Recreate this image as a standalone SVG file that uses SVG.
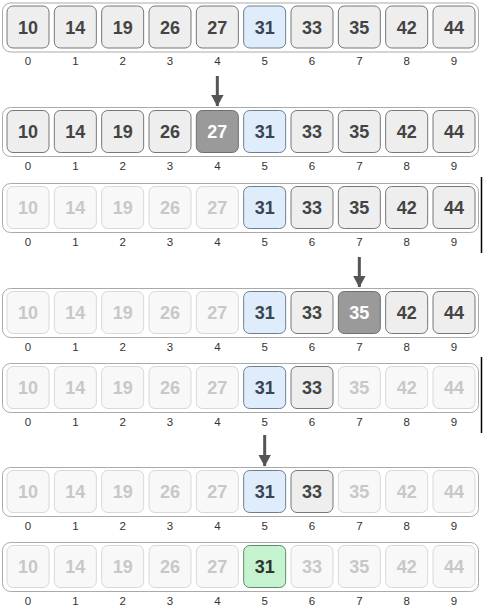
<svg xmlns="http://www.w3.org/2000/svg" width="483" height="611" viewBox="0 0 483 611">
<style>
.bg{fill:#fff}
.row{fill:#fff;stroke:#aaa;stroke-width:1}
.c rect{stroke-width:1}
.n rect{fill:#eeeeee;stroke:#777}
.n text{fill:#444}
.f rect{fill:#f8f8f8;stroke:#d8d8d8}
.f text{fill:#c8c8c8}
.b rect{fill:#dfecfb;stroke:#6e7f90}
.b text{fill:#3b4450}
.g rect{fill:#9a9a9a;stroke:#6f6f6f}
.g text{fill:#fff}
.k rect{fill:#c6f3cf;stroke:#5f8a68}
.k text{fill:#333}
.v{font-family:"Liberation Sans",Arial,sans-serif;font-weight:bold;font-size:18px;text-anchor:middle}
.c .i{font-family:"Liberation Sans",Arial,sans-serif;font-size:11.5px;fill:#333;font-weight:normal;text-anchor:middle}
.arr{stroke:#555;stroke-width:3;fill:none}
.edge{stroke:#000;stroke-width:1.5}
</style>
<defs>
<marker id="ah" viewBox="0 0 12 13" refX="11.5" refY="6.5" markerWidth="12" markerHeight="13" markerUnits="userSpaceOnUse" orient="auto">
<path d="M0,0 L12,6.5 L0,13 Z" fill="#555"/>
</marker>
</defs>
<rect class="bg" x="0" y="0" width="483" height="611"/>

<!-- Row 1 -->
<g id="row1" transform="translate(0,6)">
<rect class="row" x="2.5" y="-3" width="476" height="49" rx="8"/>
<g id="r1c0" class="c n"><rect x="7" y="0" width="42" height="42" rx="6"/><text class="v" x="28" y="27.5">10</text><text class="i" x="28" y="59">0</text></g>
<g id="r1c1" class="c n"><rect x="54.33" y="0" width="42" height="42" rx="6"/><text class="v" x="75.33" y="27.5">14</text><text class="i" x="75.33" y="59">1</text></g>
<g id="r1c2" class="c n"><rect x="101.67" y="0" width="42" height="42" rx="6"/><text class="v" x="122.67" y="27.5">19</text><text class="i" x="122.67" y="59">2</text></g>
<g id="r1c3" class="c n"><rect x="149" y="0" width="42" height="42" rx="6"/><text class="v" x="170" y="27.5">26</text><text class="i" x="170" y="59">3</text></g>
<g id="r1c4" class="c n"><rect x="196.33" y="0" width="42" height="42" rx="6"/><text class="v" x="217.33" y="27.5">27</text><text class="i" x="217.33" y="59">4</text></g>
<g id="r1c5" class="c b"><rect x="243.67" y="0" width="42" height="42" rx="6"/><text class="v" x="264.67" y="27.5">31</text><text class="i" x="264.67" y="59">5</text></g>
<g id="r1c6" class="c n"><rect x="291" y="0" width="42" height="42" rx="6"/><text class="v" x="312" y="27.5">33</text><text class="i" x="312" y="59">6</text></g>
<g id="r1c7" class="c n"><rect x="338.33" y="0" width="42" height="42" rx="6"/><text class="v" x="359.33" y="27.5">35</text><text class="i" x="359.33" y="59">7</text></g>
<g id="r1c8" class="c n"><rect x="385.67" y="0" width="42" height="42" rx="6"/><text class="v" x="406.67" y="27.5">42</text><text class="i" x="406.67" y="59">8</text></g>
<g id="r1c9" class="c n"><rect x="433" y="0" width="42" height="42" rx="6"/><text class="v" x="454" y="27.5">44</text><text class="i" x="454" y="59">9</text></g>
</g>

<!-- Row 2 -->
<g id="row2" transform="translate(0,110.5)">
<rect class="row" x="2.5" y="-3" width="476" height="49" rx="8"/>
<g id="r2c0" class="c n"><rect x="7" y="0" width="42" height="42" rx="6"/><text class="v" x="28" y="27.5">10</text><text class="i" x="28" y="59">0</text></g>
<g id="r2c1" class="c n"><rect x="54.33" y="0" width="42" height="42" rx="6"/><text class="v" x="75.33" y="27.5">14</text><text class="i" x="75.33" y="59">1</text></g>
<g id="r2c2" class="c n"><rect x="101.67" y="0" width="42" height="42" rx="6"/><text class="v" x="122.67" y="27.5">19</text><text class="i" x="122.67" y="59">2</text></g>
<g id="r2c3" class="c n"><rect x="149" y="0" width="42" height="42" rx="6"/><text class="v" x="170" y="27.5">26</text><text class="i" x="170" y="59">3</text></g>
<g id="r2c4" class="c g"><rect x="196.33" y="0" width="42" height="42" rx="6"/><text class="v" x="217.33" y="27.5">27</text><text class="i" x="217.33" y="59">4</text></g>
<g id="r2c5" class="c b"><rect x="243.67" y="0" width="42" height="42" rx="6"/><text class="v" x="264.67" y="27.5">31</text><text class="i" x="264.67" y="59">5</text></g>
<g id="r2c6" class="c n"><rect x="291" y="0" width="42" height="42" rx="6"/><text class="v" x="312" y="27.5">33</text><text class="i" x="312" y="59">6</text></g>
<g id="r2c7" class="c n"><rect x="338.33" y="0" width="42" height="42" rx="6"/><text class="v" x="359.33" y="27.5">35</text><text class="i" x="359.33" y="59">7</text></g>
<g id="r2c8" class="c n"><rect x="385.67" y="0" width="42" height="42" rx="6"/><text class="v" x="406.67" y="27.5">42</text><text class="i" x="406.67" y="59">8</text></g>
<g id="r2c9" class="c n"><rect x="433" y="0" width="42" height="42" rx="6"/><text class="v" x="454" y="27.5">44</text><text class="i" x="454" y="59">9</text></g>
</g>

<!-- Row 3 -->
<g id="row3" transform="translate(0,186.5)">
<rect class="row" x="2.5" y="-3" width="476" height="49" rx="8"/>
<g id="r3c0" class="c f"><rect x="7" y="0" width="42" height="42" rx="6"/><text class="v" x="28" y="27.5">10</text><text class="i" x="28" y="59">0</text></g>
<g id="r3c1" class="c f"><rect x="54.33" y="0" width="42" height="42" rx="6"/><text class="v" x="75.33" y="27.5">14</text><text class="i" x="75.33" y="59">1</text></g>
<g id="r3c2" class="c f"><rect x="101.67" y="0" width="42" height="42" rx="6"/><text class="v" x="122.67" y="27.5">19</text><text class="i" x="122.67" y="59">2</text></g>
<g id="r3c3" class="c f"><rect x="149" y="0" width="42" height="42" rx="6"/><text class="v" x="170" y="27.5">26</text><text class="i" x="170" y="59">3</text></g>
<g id="r3c4" class="c f"><rect x="196.33" y="0" width="42" height="42" rx="6"/><text class="v" x="217.33" y="27.5">27</text><text class="i" x="217.33" y="59">4</text></g>
<g id="r3c5" class="c b"><rect x="243.67" y="0" width="42" height="42" rx="6"/><text class="v" x="264.67" y="27.5">31</text><text class="i" x="264.67" y="59">5</text></g>
<g id="r3c6" class="c n"><rect x="291" y="0" width="42" height="42" rx="6"/><text class="v" x="312" y="27.5">33</text><text class="i" x="312" y="59">6</text></g>
<g id="r3c7" class="c n"><rect x="338.33" y="0" width="42" height="42" rx="6"/><text class="v" x="359.33" y="27.5">35</text><text class="i" x="359.33" y="59">7</text></g>
<g id="r3c8" class="c n"><rect x="385.67" y="0" width="42" height="42" rx="6"/><text class="v" x="406.67" y="27.5">42</text><text class="i" x="406.67" y="59">8</text></g>
<g id="r3c9" class="c n"><rect x="433" y="0" width="42" height="42" rx="6"/><text class="v" x="454" y="27.5">44</text><text class="i" x="454" y="59">9</text></g>
</g>

<!-- Row 4 -->
<g id="row4" transform="translate(0,291.5)">
<rect class="row" x="2.5" y="-3" width="476" height="49" rx="8"/>
<g id="r4c0" class="c f"><rect x="7" y="0" width="42" height="42" rx="6"/><text class="v" x="28" y="27.5">10</text><text class="i" x="28" y="59">0</text></g>
<g id="r4c1" class="c f"><rect x="54.33" y="0" width="42" height="42" rx="6"/><text class="v" x="75.33" y="27.5">14</text><text class="i" x="75.33" y="59">1</text></g>
<g id="r4c2" class="c f"><rect x="101.67" y="0" width="42" height="42" rx="6"/><text class="v" x="122.67" y="27.5">19</text><text class="i" x="122.67" y="59">2</text></g>
<g id="r4c3" class="c f"><rect x="149" y="0" width="42" height="42" rx="6"/><text class="v" x="170" y="27.5">26</text><text class="i" x="170" y="59">3</text></g>
<g id="r4c4" class="c f"><rect x="196.33" y="0" width="42" height="42" rx="6"/><text class="v" x="217.33" y="27.5">27</text><text class="i" x="217.33" y="59">4</text></g>
<g id="r4c5" class="c b"><rect x="243.67" y="0" width="42" height="42" rx="6"/><text class="v" x="264.67" y="27.5">31</text><text class="i" x="264.67" y="59">5</text></g>
<g id="r4c6" class="c n"><rect x="291" y="0" width="42" height="42" rx="6"/><text class="v" x="312" y="27.5">33</text><text class="i" x="312" y="59">6</text></g>
<g id="r4c7" class="c g"><rect x="338.33" y="0" width="42" height="42" rx="6"/><text class="v" x="359.33" y="27.5">35</text><text class="i" x="359.33" y="59">7</text></g>
<g id="r4c8" class="c n"><rect x="385.67" y="0" width="42" height="42" rx="6"/><text class="v" x="406.67" y="27.5">42</text><text class="i" x="406.67" y="59">8</text></g>
<g id="r4c9" class="c n"><rect x="433" y="0" width="42" height="42" rx="6"/><text class="v" x="454" y="27.5">44</text><text class="i" x="454" y="59">9</text></g>
</g>

<!-- Row 5 -->
<g id="row5" transform="translate(0,366.5)">
<rect class="row" x="2.5" y="-3" width="476" height="49" rx="8"/>
<g id="r5c0" class="c f"><rect x="7" y="0" width="42" height="42" rx="6"/><text class="v" x="28" y="27.5">10</text><text class="i" x="28" y="59">0</text></g>
<g id="r5c1" class="c f"><rect x="54.33" y="0" width="42" height="42" rx="6"/><text class="v" x="75.33" y="27.5">14</text><text class="i" x="75.33" y="59">1</text></g>
<g id="r5c2" class="c f"><rect x="101.67" y="0" width="42" height="42" rx="6"/><text class="v" x="122.67" y="27.5">19</text><text class="i" x="122.67" y="59">2</text></g>
<g id="r5c3" class="c f"><rect x="149" y="0" width="42" height="42" rx="6"/><text class="v" x="170" y="27.5">26</text><text class="i" x="170" y="59">3</text></g>
<g id="r5c4" class="c f"><rect x="196.33" y="0" width="42" height="42" rx="6"/><text class="v" x="217.33" y="27.5">27</text><text class="i" x="217.33" y="59">4</text></g>
<g id="r5c5" class="c b"><rect x="243.67" y="0" width="42" height="42" rx="6"/><text class="v" x="264.67" y="27.5">31</text><text class="i" x="264.67" y="59">5</text></g>
<g id="r5c6" class="c n"><rect x="291" y="0" width="42" height="42" rx="6"/><text class="v" x="312" y="27.5">33</text><text class="i" x="312" y="59">6</text></g>
<g id="r5c7" class="c f"><rect x="338.33" y="0" width="42" height="42" rx="6"/><text class="v" x="359.33" y="27.5">35</text><text class="i" x="359.33" y="59">7</text></g>
<g id="r5c8" class="c f"><rect x="385.67" y="0" width="42" height="42" rx="6"/><text class="v" x="406.67" y="27.5">42</text><text class="i" x="406.67" y="59">8</text></g>
<g id="r5c9" class="c f"><rect x="433" y="0" width="42" height="42" rx="6"/><text class="v" x="454" y="27.5">44</text><text class="i" x="454" y="59">9</text></g>
</g>

<!-- Row 6 -->
<g id="row6" transform="translate(0,470.5)">
<rect class="row" x="2.5" y="-3" width="476" height="49" rx="8"/>
<g id="r6c0" class="c f"><rect x="7" y="0" width="42" height="42" rx="6"/><text class="v" x="28" y="27.5">10</text><text class="i" x="28" y="59">0</text></g>
<g id="r6c1" class="c f"><rect x="54.33" y="0" width="42" height="42" rx="6"/><text class="v" x="75.33" y="27.5">14</text><text class="i" x="75.33" y="59">1</text></g>
<g id="r6c2" class="c f"><rect x="101.67" y="0" width="42" height="42" rx="6"/><text class="v" x="122.67" y="27.5">19</text><text class="i" x="122.67" y="59">2</text></g>
<g id="r6c3" class="c f"><rect x="149" y="0" width="42" height="42" rx="6"/><text class="v" x="170" y="27.5">26</text><text class="i" x="170" y="59">3</text></g>
<g id="r6c4" class="c f"><rect x="196.33" y="0" width="42" height="42" rx="6"/><text class="v" x="217.33" y="27.5">27</text><text class="i" x="217.33" y="59">4</text></g>
<g id="r6c5" class="c b"><rect x="243.67" y="0" width="42" height="42" rx="6"/><text class="v" x="264.67" y="27.5">31</text><text class="i" x="264.67" y="59">5</text></g>
<g id="r6c6" class="c n"><rect x="291" y="0" width="42" height="42" rx="6"/><text class="v" x="312" y="27.5">33</text><text class="i" x="312" y="59">6</text></g>
<g id="r6c7" class="c f"><rect x="338.33" y="0" width="42" height="42" rx="6"/><text class="v" x="359.33" y="27.5">35</text><text class="i" x="359.33" y="59">7</text></g>
<g id="r6c8" class="c f"><rect x="385.67" y="0" width="42" height="42" rx="6"/><text class="v" x="406.67" y="27.5">42</text><text class="i" x="406.67" y="59">8</text></g>
<g id="r6c9" class="c f"><rect x="433" y="0" width="42" height="42" rx="6"/><text class="v" x="454" y="27.5">44</text><text class="i" x="454" y="59">9</text></g>
</g>

<!-- Row 7 -->
<g id="row7" transform="translate(0,545.5)">
<rect class="row" x="2.5" y="-3" width="476" height="49" rx="8"/>
<g id="r7c0" class="c f"><rect x="7" y="0" width="42" height="42" rx="6"/><text class="v" x="28" y="27.5">10</text><text class="i" x="28" y="59">0</text></g>
<g id="r7c1" class="c f"><rect x="54.33" y="0" width="42" height="42" rx="6"/><text class="v" x="75.33" y="27.5">14</text><text class="i" x="75.33" y="59">1</text></g>
<g id="r7c2" class="c f"><rect x="101.67" y="0" width="42" height="42" rx="6"/><text class="v" x="122.67" y="27.5">19</text><text class="i" x="122.67" y="59">2</text></g>
<g id="r7c3" class="c f"><rect x="149" y="0" width="42" height="42" rx="6"/><text class="v" x="170" y="27.5">26</text><text class="i" x="170" y="59">3</text></g>
<g id="r7c4" class="c f"><rect x="196.33" y="0" width="42" height="42" rx="6"/><text class="v" x="217.33" y="27.5">27</text><text class="i" x="217.33" y="59">4</text></g>
<g id="r7c5" class="c k"><rect x="243.67" y="0" width="42" height="42" rx="6"/><text class="v" x="264.67" y="27.5">31</text><text class="i" x="264.67" y="59">5</text></g>
<g id="r7c6" class="c f"><rect x="291" y="0" width="42" height="42" rx="6"/><text class="v" x="312" y="27.5">33</text><text class="i" x="312" y="59">6</text></g>
<g id="r7c7" class="c f"><rect x="338.33" y="0" width="42" height="42" rx="6"/><text class="v" x="359.33" y="27.5">35</text><text class="i" x="359.33" y="59">7</text></g>
<g id="r7c8" class="c f"><rect x="385.67" y="0" width="42" height="42" rx="6"/><text class="v" x="406.67" y="27.5">42</text><text class="i" x="406.67" y="59">8</text></g>
<g id="r7c9" class="c f"><rect x="433" y="0" width="42" height="42" rx="6"/><text class="v" x="454" y="27.5">44</text><text class="i" x="454" y="59">9</text></g>
</g>

<g id="connectors">
<line class="arr" x1="217.33" y1="76" x2="217.33" y2="106" marker-end="url(#ah)"/>
<line class="arr" x1="359.33" y1="257" x2="359.33" y2="287" marker-end="url(#ah)"/>
<line class="arr" x1="264.67" y1="435" x2="264.67" y2="466" marker-end="url(#ah)"/>
</g>

<g id="edges">
<line class="edge" x1="481.5" y1="177" x2="481.5" y2="253"/>
<line class="edge" x1="481.5" y1="357" x2="481.5" y2="433"/>
</g>
</svg>
